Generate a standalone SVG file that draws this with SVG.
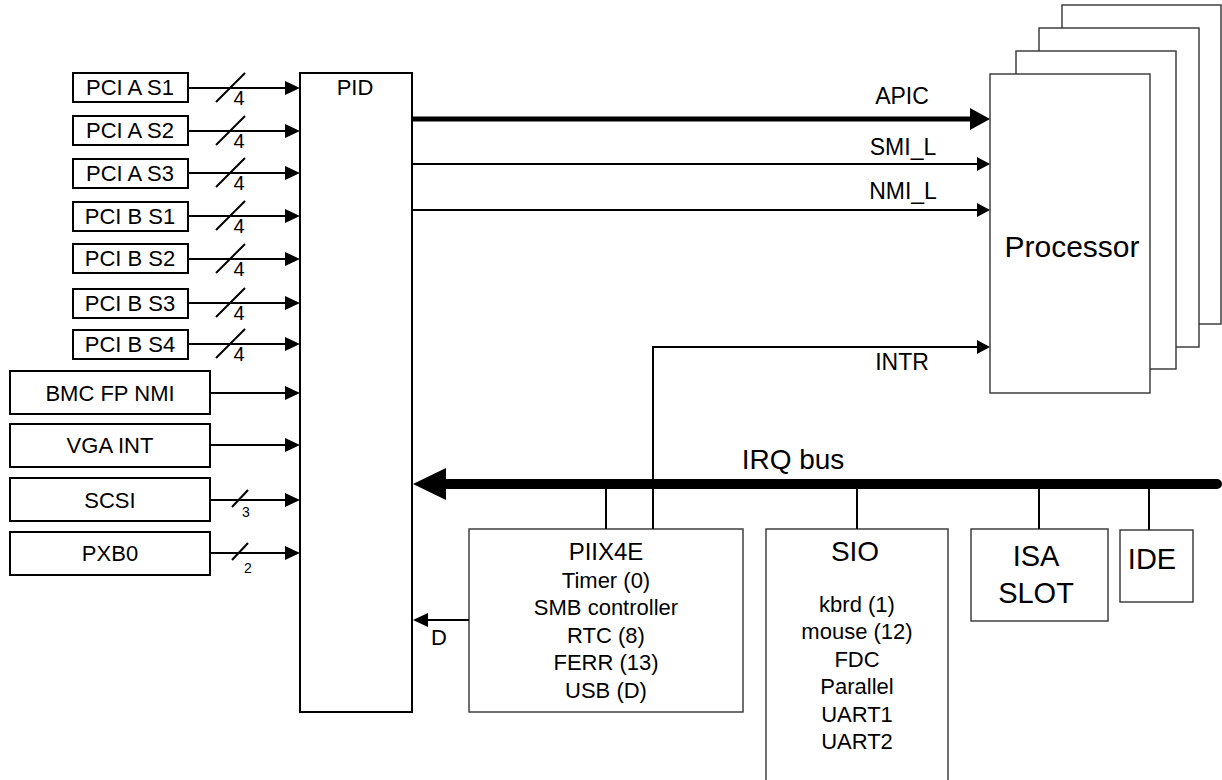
<svg xmlns="http://www.w3.org/2000/svg" width="1222" height="780" viewBox="0 0 1222 780">
<style>
text{font-family:"Liberation Sans",Arial,sans-serif;fill:#000}
.bk{fill:#fff;stroke:#000;stroke-width:2}
.gy{fill:#fff;stroke:#333;stroke-width:1.4}
.ln{fill:none;stroke:#000;stroke-width:2}
.t22{font-size:22px;text-anchor:middle}
.t20{font-size:20px;text-anchor:middle}
.t12{font-size:14px;text-anchor:middle}
.sig{font-size:23px;text-anchor:middle}
</style>
<defs>
<marker id="ah" markerUnits="userSpaceOnUse" markerWidth="15" markerHeight="14" refX="0" refY="7" orient="auto" overflow="visible"><path d="M0,0 L15,7 L0,14 z" fill="#000"/></marker>
<marker id="ahs" markerUnits="userSpaceOnUse" markerWidth="13" markerHeight="14" refX="0" refY="7" orient="auto" overflow="visible"><path d="M0,0 L13,7 L0,14 z" fill="#000"/></marker>
<marker id="ahb" markerUnits="userSpaceOnUse" markerWidth="20" markerHeight="22" refX="0" refY="11" orient="auto" overflow="visible"><path d="M0,0 L20,11 L0,22 z" fill="#000"/></marker>
<marker id="ahx" markerUnits="userSpaceOnUse" markerWidth="33" markerHeight="32" refX="0" refY="16" orient="auto" overflow="visible"><path d="M0,0 L33,16 L0,32 z" fill="#000"/></marker>
</defs>

<g id="processor">
<rect class="gy" x="1062" y="5" width="159" height="319"/>
<rect class="gy" x="1039" y="28" width="160" height="319"/>
<rect class="gy" x="1016" y="51" width="160" height="318"/>
<rect class="gy" x="990" y="74" width="160" height="319"/>
<text x="1072" y="257" font-size="30" text-anchor="middle">Processor</text>
</g>

<g id="pid"><rect class="bk" x="300" y="73" width="112" height="639"/><text class="t22" x="355" y="95">PID</text></g>

<g id="pci-a-s1"><rect class="bk" x="73" y="73" width="115" height="29"/><text class="t22" x="130" y="95">PCI A S1</text></g>
<g id="pci-a-s2"><rect class="bk" x="73" y="116" width="115" height="29"/><text class="t22" x="130" y="138">PCI A S2</text></g>
<g id="pci-a-s3"><rect class="bk" x="73" y="159" width="115" height="29"/><text class="t22" x="130" y="181">PCI A S3</text></g>
<g id="pci-b-s1"><rect class="bk" x="73" y="202" width="115" height="29"/><text class="t22" x="130" y="224">PCI B S1</text></g>
<g id="pci-b-s2"><rect class="bk" x="73" y="244" width="115" height="29"/><text class="t22" x="130" y="266">PCI B S2</text></g>
<g id="pci-b-s3"><rect class="bk" x="73" y="289" width="115" height="29"/><text class="t22" x="130" y="311">PCI B S3</text></g>
<g id="pci-b-s4"><rect class="bk" x="73" y="330" width="115" height="29"/><text class="t22" x="130" y="352">PCI B S4</text></g>

<g id="bmc"><rect class="bk" x="10" y="371" width="200" height="43"/><text class="t22" x="110" y="401">BMC FP NMI</text></g>
<g id="vga"><rect class="bk" x="10" y="424" width="200" height="43"/><text class="t22" x="110" y="453">VGA INT</text></g>
<g id="scsi"><rect class="bk" x="10" y="478" width="200" height="43"/><text class="t22" x="110" y="508">SCSI</text></g>
<g id="pxb0"><rect class="bk" x="10" y="532" width="200" height="43"/><text class="t22" x="110" y="561">PXB0</text></g>

<g id="piix4e"><rect class="gy" x="469" y="529" width="274" height="183"/>
<text x="606" y="560" font-size="24" text-anchor="middle">PIIX4E</text>
<text class="t22" x="606" y="588">Timer (0)</text>
<text class="t22" x="606" y="615">SMB controller</text>
<text class="t22" x="606" y="643">RTC (8)</text>
<text class="t22" x="606" y="670">FERR (13)</text>
<text class="t22" x="606" y="698">USB (D)</text>
</g>

<g id="sio"><rect class="gy" x="766" y="529" width="182" height="270"/>
<text x="855" y="561" font-size="28" text-anchor="middle">SIO</text>
<text class="t22" x="857" y="612">kbrd (1)</text>
<text class="t22" x="857" y="639">mouse (12)</text>
<text class="t22" x="857" y="667">FDC</text>
<text class="t22" x="857" y="694">Parallel</text>
<text class="t22" x="857" y="722">UART1</text>
<text class="t22" x="857" y="749">UART2</text>
</g>

<g id="isa-slot"><rect class="gy" x="971" y="529" width="137" height="92"/>
<text x="1036" y="566" font-size="29" text-anchor="middle">ISA</text>
<text x="1036" y="603" font-size="29" text-anchor="middle">SLOT</text>
</g>

<g id="ide"><rect class="gy" x="1120" y="530" width="73" height="72"/>
<text x="1152" y="569" font-size="29" text-anchor="middle">IDE</text>
</g>

<g id="connectors">
<g class="ln" marker-end="url(#ah)">
<line x1="188" y1="88" x2="285" y2="88"/>
<line x1="188" y1="131" x2="285" y2="131"/>
<line x1="188" y1="173" x2="285" y2="173"/>
<line x1="188" y1="216" x2="285" y2="216"/>
<line x1="188" y1="259" x2="285" y2="259"/>
<line x1="188" y1="303" x2="285" y2="303"/>
<line x1="188" y1="344" x2="285" y2="344"/>
<line x1="210" y1="393" x2="285" y2="393"/>
<line x1="210" y1="445" x2="285" y2="445"/>
<line x1="210" y1="500" x2="285" y2="500"/>
<line x1="210" y1="553" x2="285" y2="553"/>
<line x1="469" y1="620" x2="428" y2="620"/>
</g>
<g class="ln">
<line x1="216" y1="102" x2="245" y2="73"/>
<line x1="216" y1="145" x2="245" y2="116"/>
<line x1="216" y1="187" x2="245" y2="158"/>
<line x1="216" y1="230" x2="245" y2="201"/>
<line x1="216" y1="273" x2="245" y2="244"/>
<line x1="216" y1="317" x2="245" y2="288"/>
<line x1="216" y1="358" x2="245" y2="329"/>
<line x1="232" y1="507" x2="248" y2="490"/>
<line x1="232" y1="560" x2="248" y2="543"/>
</g>
<g class="t20">
<text x="239" y="105">4</text>
<text x="239" y="148">4</text>
<text x="239" y="190">4</text>
<text x="239" y="233">4</text>
<text x="239" y="276">4</text>
<text x="239" y="320">4</text>
<text x="239" y="361">4</text>
</g>
<text class="t12" x="246" y="517">3</text>
<text class="t12" x="248" y="573">2</text>

<line x1="412" y1="119" x2="970" y2="119" stroke="#000" stroke-width="5" marker-end="url(#ahb)"/>
<line class="ln" x1="412" y1="164" x2="977" y2="164" marker-end="url(#ahs)"/>
<line class="ln" x1="412" y1="210" x2="977" y2="210" marker-end="url(#ahs)"/>
<path class="ln" d="M653,529 V347 H977" marker-end="url(#ahs)"/>
<text class="sig" x="902" y="104">APIC</text>
<text class="sig" x="903" y="155">SMI_L</text>
<text class="sig" x="903" y="199">NMI_L</text>
<text class="sig" x="902" y="370">INTR</text>

<line x1="1217" y1="484" x2="446" y2="484" stroke="#000" stroke-width="10" stroke-linecap="round" marker-end="url(#ahx)"/>
<text x="793" y="469" font-size="28" text-anchor="middle">IRQ bus</text>
<g class="ln">
<line x1="606" y1="484" x2="606" y2="529"/>
<line x1="857" y1="484" x2="857" y2="529"/>
<line x1="1039" y1="484" x2="1039" y2="529"/>
<line x1="1149" y1="484" x2="1149" y2="530"/>
</g>
<text class="t22" x="439" y="645">D</text>
</g>
</svg>
